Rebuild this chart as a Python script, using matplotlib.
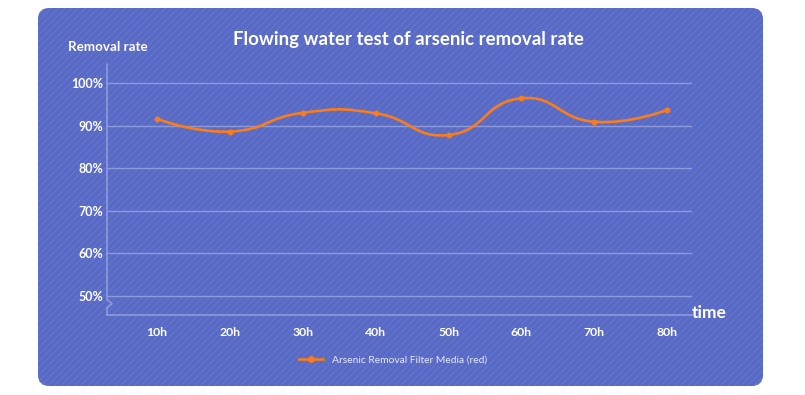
import numpy as np
import matplotlib
matplotlib.use("Agg")
import matplotlib.pyplot as plt
from matplotlib.patches import FancyBboxPatch, PathPatch
from matplotlib.path import Path
from matplotlib.lines import Line2D

# ---- data ----
categories = ["10h", "20h", "30h", "40h", "50h", "60h", "70h", "80h"]
removal_rate = [91.6, 88.6, 93.0, 92.9, 87.8, 96.4, 90.9, 93.7]
y_ticks = [50, 60, 70, 80, 90, 100]
y_tick_labels = ["50%", "60%", "70%", "80%", "90%", "100%"]
series_name = "Arsenic Removal Filter Media (red)"
title = "Flowing water test of arsenic removal rate"
y_name = "Removal rate"
x_name = "time"

W, H = 805, 395
DPI = 100
panel_color = "#5869c6"
stripe_color = "#6676cd"
grid_color = "#8d9bdb"
orange = "#fa7d19"
font = "Lato"

plt.rcParams["hatch.linewidth"] = 0.8
fig = plt.figure(figsize=(W / DPI, H / DPI), dpi=DPI)
fig.patch.set_facecolor("white")

def fx(px):
    return px / W

def fy(py):
    return 1 - py / H

# rounded panel
panel = FancyBboxPatch((fx(38), fy(386)), fx(763) - fx(38), fy(8) - fy(386),
                       boxstyle="round,pad=0,rounding_size=0.014",
                       transform=fig.transFigure, facecolor=panel_color,
                       edgecolor=stripe_color, hatch="/////", linewidth=0,
                       mutation_aspect=W / H, zorder=-5)
fig.patches.append(panel)

ax = fig.add_axes([fx(107), fy(315), fx(692) - fx(107), fy(64) - fy(315)])
ax.set_zorder(2)
ax.set_facecolor("none")
x = np.arange(1, len(categories) + 1)
ax.set_xlim(0.315, 8.34)
ax.set_ylim(45.54, 104.46)
for s in ax.spines.values():
    s.set_visible(False)
ax.tick_params(length=0)
ax.set_xticks(x)
ax.set_xticklabels(categories, color="white", fontsize=8.8, fontweight="bold", family=font)
ax.set_yticks(y_ticks)
ax.set_yticklabels(y_tick_labels, color="white", fontsize=9, fontweight="bold", family=font)
ax.tick_params(axis="x", pad=9)
ax.tick_params(axis="y", pad=3)
for yt in y_ticks:
    ax.axhline(yt, color=grid_color, lw=1, zorder=1)
ax.axhline(45.54, color=grid_color, lw=1.2, zorder=1, clip_on=False)

# left axis line with break notch
x0 = 0.315
dxu = 5 / 73.0
spine_y = [104.46, 49.2, 48.2, 47.2, 45.54]
spine_x = [x0, x0, x0 + dxu, x0, x0]
ax.plot(spine_x, spine_y, color=grid_color, lw=1.2, clip_on=False, zorder=1)

# smooth curve (echarts-like bezier)
pts = np.column_stack([x, removal_rate]).astype(float)
smooth = 0.5
n = len(pts)
sc = np.array([73.0, 4.26])
verts = [tuple(pts[0])]
codes = [Path.MOVETO]
cps = []
for i in range(n):
    if i == 0 or i == n - 1:
        cps.append((pts[i], pts[i]))
        continue
    v = pts[i + 1] - pts[i - 1]
    d0 = np.linalg.norm((pts[i] - pts[i - 1]) * sc)
    d1 = np.linalg.norm((pts[i + 1] - pts[i]) * sc)
    r = d0 / (d0 + d1)
    cps.append((pts[i] - v * smooth * r, pts[i] + v * smooth * (1 - r)))
for i in range(n - 1):
    verts += [tuple(cps[i][1]), tuple(cps[i + 1][0]), tuple(pts[i + 1])]
    codes += [Path.CURVE4] * 3
ax.add_patch(PathPatch(Path(verts, codes), facecolor="none", edgecolor=orange,
                       lw=1.9, zorder=3, capstyle="round"))
ax.plot(x, removal_rate, linestyle="none", marker="o", markersize=3.2,
        color=orange, zorder=4)

# texts
fig.text(fx(408), fy(40), title, color="white", fontsize=13.4, fontweight="bold",
         family=font, ha="center", va="center")
fig.text(fx(68), fy(47), y_name, color="white", fontsize=9.6, fontweight="bold",
         family=font, ha="left", va="center")
fig.text(fx(692), fy(313), x_name, color="white", fontsize=12.5, fontweight="bold",
         family=font, ha="left", va="center")

handle = Line2D([], [], color=orange, lw=1.9, marker="o", markersize=4)
fig.legend([handle], [series_name], loc="center left",
           bbox_to_anchor=(fx(290), fy(360)), frameon=False, handlelength=2.3,
           handletextpad=0.9, prop={"family": font, "size": 7.4},
           labelcolor="#e6e9f7")

fig.savefig("out.png", dpi=DPI)
